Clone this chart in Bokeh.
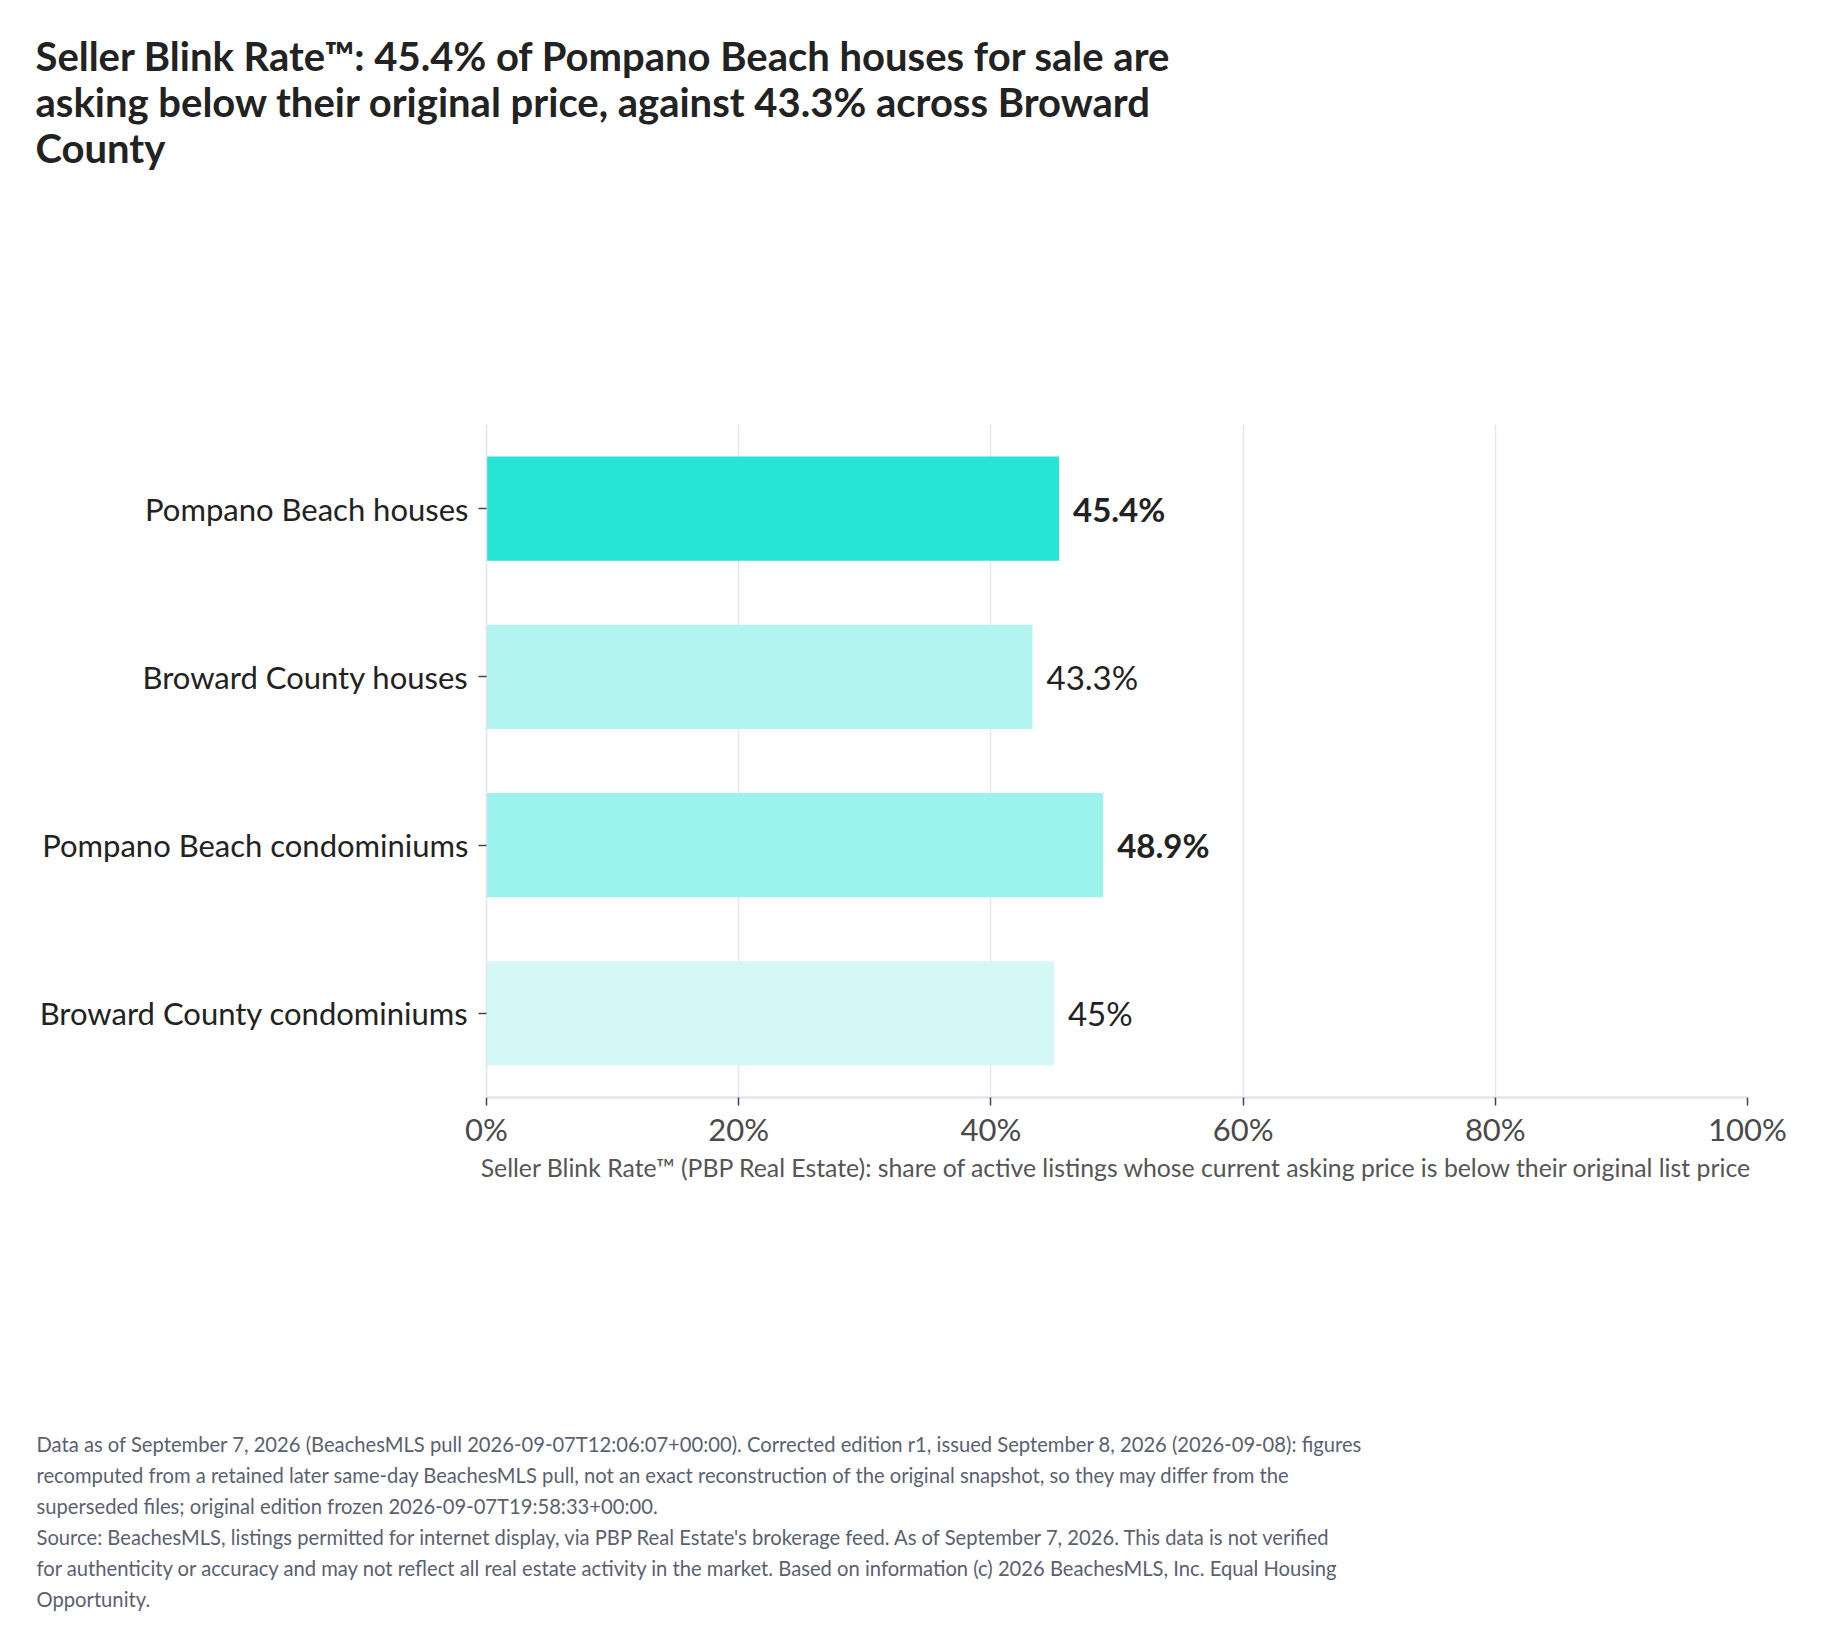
from bokeh.plotting import figure
from bokeh.models import FactorRange, Range1d, FixedTicker, PrintfTickFormatter, ColumnDataSource, Title
from bokeh.embed import file_html
from bokeh.resources import INLINE
from bokeh.core.properties import value

categories = [
    "Pompano Beach houses",
    "Broward County houses",
    "Pompano Beach condominiums",
    "Broward County condominiums",
]
rates = [45.4, 43.3, 48.9, 45.0]
bar_colors = ["#26E5D5", "#B2F5F0", "#9CF2EC", "#D3F8F5"]
x_ticks = [0, 20, 40, 60, 80, 100]

title_lines = [
    "Seller Blink Rate\u2122: 45.4% of Pompano Beach houses for sale are",
    "asking below their original price, against 43.3% across Broward",
    "County",
]
axis_title = ("Seller Blink Rate\u2122 (PBP Real Estate): share of active listings whose "
              "current asking price is below their original list price")
footnote_lines = [
    "Data as of September 7, 2026 (BeachesMLS pull 2026-09-07T12:06:07+00:00). Corrected edition r1, issued September 8, 2026 (2026-09-08): figures",
    "recomputed from a retained later same-day BeachesMLS pull, not an exact reconstruction of the original snapshot, so they may differ from the",
    "superseded files; original edition frozen 2026-09-07T19:58:33+00:00.",
    "Source: BeachesMLS, listings permitted for internet display, via PBP Real Estate's brokerage feed. As of September 7, 2026. This data is not verified",
    "for authenticity or accuracy and may not reflect all real estate activity in the market. Based on information (c) 2026 BeachesMLS, Inc. Equal Housing",
    "Opportunity.",
]

FONT = "Lato"
FL, FW, FH = 486, 1261, 673
RIGHT = 58

p = figure(
    frame_width=FW, frame_height=FH,
    y_range=FactorRange(factors=list(reversed(categories)), range_padding=0),
    x_range=Range1d(0, 100),
    output_backend="svg", toolbar_location=None,
    min_border_left=FL, min_border_top=0,
    min_border_right=RIGHT, min_border_bottom=0,
)
p.title.text = ""
p.title.visible = False
p.outline_line_color = None
p.background_fill_color = "white"
p.border_fill_color = "white"

src = ColumnDataSource(dict(cat=categories, rate=rates, color=bar_colors))
p.hbar(y="cat", right="rate", left=0, height=0.62, fill_color="color", line_color=None, source=src)


def fmt(v):
    return f"{v:g}%"


bold_idx = [i for i, c in enumerate(categories) if c.startswith("Pompano")]
norm_idx = [i for i, c in enumerate(categories) if not c.startswith("Pompano")]
for idx, style in ((bold_idx, "bold"), (norm_idx, "normal")):
    s = ColumnDataSource(dict(
        cat=[categories[i] for i in idx],
        rate=[rates[i] for i in idx],
        label=[fmt(rates[i]) for i in idx],
    ))
    p.text(x="rate", y="cat", text="label", source=s, x_offset=14,
           text_baseline="middle", text_align="left",
           text_font=value(FONT), text_font_size=value("33px"),
           text_font_style=style, text_color="#222222")

p.ygrid.grid_line_color = None
p.xgrid.grid_line_color = "#E6E6F0"
p.xgrid.grid_line_width = 1.5
p.xgrid.ticker = FixedTicker(ticks=x_ticks)

xa = p.xaxis[0]
xa.ticker = FixedTicker(ticks=x_ticks)
xa.formatter = PrintfTickFormatter(format="%d%%")
xa.axis_line_color = "#E3E4EE"
xa.axis_line_width = 2.5
xa.major_tick_line_color = "#444444"
xa.major_tick_line_width = 1.5
xa.major_tick_out = 8
xa.major_tick_in = 0
xa.minor_tick_line_color = None
xa.major_label_text_font = FONT
xa.major_label_text_font_size = "31px"
xa.major_label_text_color = "#4a4a4a"
xa.major_label_standoff = 4
xa.axis_label = axis_title
xa.axis_label_text_font = FONT
xa.axis_label_text_font_size = "24.8px"
xa.axis_label_text_font_style = "normal"
xa.axis_label_text_color = "#555555"
xa.axis_label_standoff = 2

ya = p.yaxis[0]
ya.axis_line_color = "#E3E4EE"
ya.axis_line_width = 1.5
ya.major_tick_line_color = "#444444"
ya.major_tick_line_width = 1.5
ya.major_tick_out = 8
ya.major_tick_in = 0
ya.minor_tick_line_color = None
ya.major_label_text_font = FONT
ya.major_label_text_font_size = "31px"
ya.major_label_text_color = "#222222"
ya.major_label_standoff = 10


def spacer(px):
    return Title(text=" ", text_font_size="10px", standoff=px, text_color="white")


# above: first added sits closest to the frame
p.add_layout(spacer(210), "above")
p.add_layout(Title(
    text="\n".join(title_lines), align="left", offset=-451, standoff=58,
    text_font=FONT, text_font_size="40px", text_font_style="bold",
    text_color="#222222", text_line_height=0.965,
), "above")

# below: x axis, spacer, then footnote lines
p.add_layout(spacer(230), "below")
for line in footnote_lines:
    p.add_layout(Title(
        text=line, align="left", offset=-450, standoff=4.8,
        text_font=FONT, text_font_size="20.2px", text_font_style="normal",
        text_color="#5B5F72",
    ), "below")

open("out.html", "w").write(file_html(p, INLINE))
